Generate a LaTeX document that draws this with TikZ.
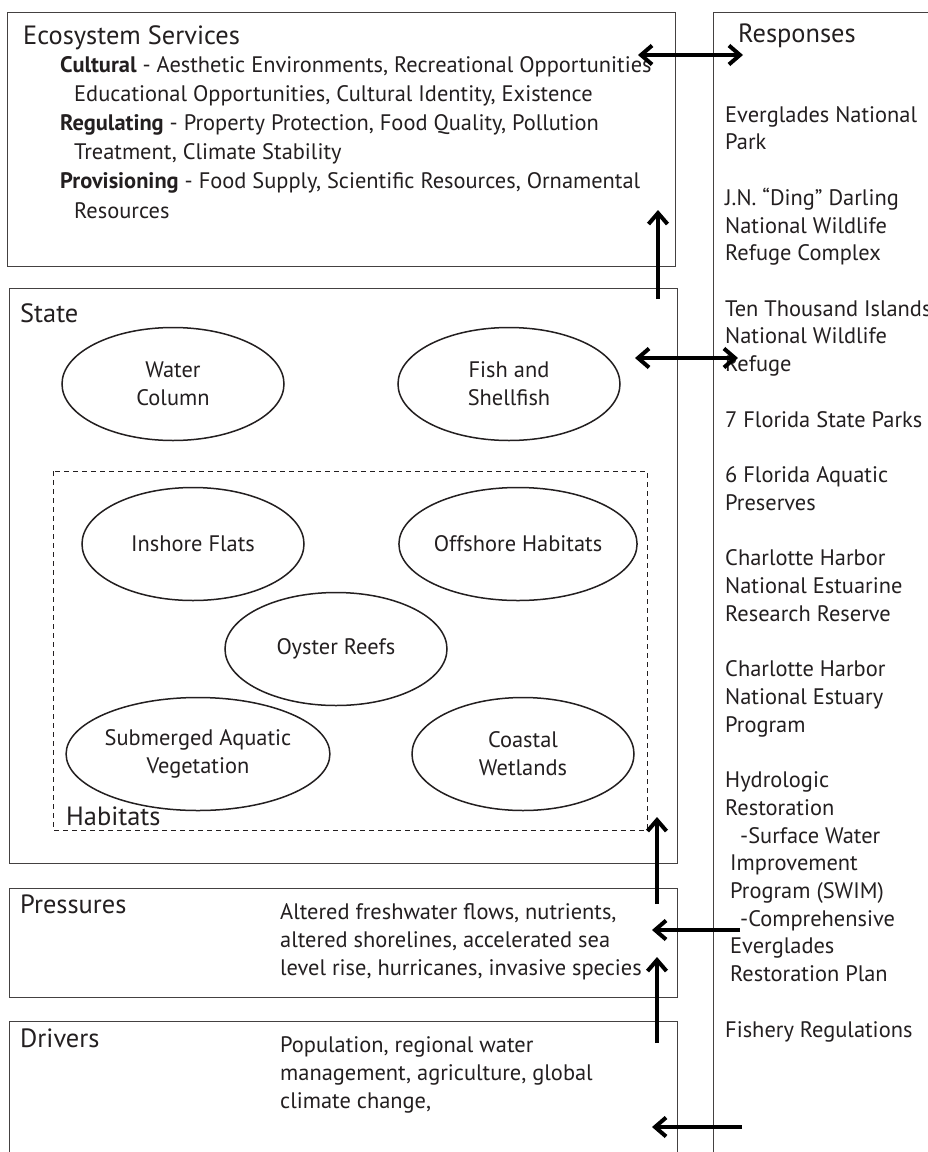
\documentclass[tikz,border=0pt]{standalone}
\usepackage{fontspec}
\setmainfont{PT Sans}
\usetikzlibrary{arrows.meta,shapes.geometric}
\definecolor{ink}{HTML}{231F20}
\begin{document}
\begin{tikzpicture}[x=1bp,y=-1bp,
  box/.style={draw=ink!85, line width=1bp},
  hab/.style={draw=ink, line width=1.5bp, ellipse, inner sep=0pt, align=center, text=ink,
    minimum width=222bp, minimum height=113bp, font=\fontsize{22.5}{28}\selectfont},
  title/.style={anchor=base west, inner sep=0pt, text=ink, font=\fontsize{26.5}{30}\selectfont},
  body/.style={anchor=base west, inner sep=0pt, text=ink, align=left,
    font=\fontsize{22.5}{27.8}\selectfont},
  tip/.tip={Straight Barb[length=11bp,width=19bp]},
  flow/.style={line width=4bp, -tip},
  both/.style={line width=4bp, tip-tip}]
\useasboundingbox (0,0) rectangle (928,1152);
\fill[white] (0,0) rectangle (928,1152);

% boxes
\draw[box] (7,12) rectangle (675,266);
\draw[box] (928,12) -- (713,12) -- (713,1152);
\draw[box] (9,288) rectangle (677,863);
\draw[box] (9,888) rectangle (677,997);
\draw[box] (677,1152) -- (677,1021) -- (9,1021) -- (9,1152);
\draw[ink, line width=0.9bp, dash pattern=on 5bp off 4bp] (53,471) rectangle (647,830);

% titles
\node[title] (estitle) at (23,44) {Ecosystem Services};
\node[title] (resptitle) at (738,42) {Responses};
\node[title] (statetitle) at (20,322) {State};
\node[title] (habtitle) at (66,825) {Habitats};
\node[title] (prestitle) at (20,913) {Pressures};
\node[title] (drvtitle) at (20,1047) {Drivers};

% ecosystem services body (anchored at last line)
\node[body, font=\fontsize{22.5}{29.2}\selectfont] (esbody) at (60,218) {%
\textbf{Cultural} - Aesthetic Environments, Recreational Opportunities\\
\hspace*{14bp}Educational Opportunities, Cultural Identity, Existence\\
\textbf{Regulating} - Property Protection, Food Quality, Pollution\\
\hspace*{14bp}Treatment, Climate Stability\\
\textbf{Provisioning} - Food Supply, Scientific Resources, Ornamental\\
\hspace*{14bp}Resources};

% responses body (anchored at last line)
\node[body] (respbody) at (725,1037) {%
Everglades National\\
Park\\[27.8bp]
J.N. ``Ding'' Darling\\
National Wildlife\\
Refuge Complex\\[27.8bp]
Ten Thousand Islands\\
National Wildlife\\
Refuge\\[27.8bp]
7 Florida State Parks\\[27.8bp]
6 Florida Aquatic\\
Preserves\\[27.8bp]
Charlotte Harbor\\
National Estuarine\\
Research Reserve\\[27.8bp]
Charlotte Harbor\\
National Estuary\\
Program\\[27.8bp]
Hydrologic\\
Restoration\\
\hspace*{15bp}-Surface Water\\
\hspace*{5bp}Improvement\\
\hspace*{5bp}Program (SWIM)\\
\hspace*{15bp}-Comprehensive\\
\hspace*{5bp}Everglades\\
\hspace*{5bp}Restoration Plan\\[27.8bp]
Fishery Regulations};

% pressures / drivers body (anchored at last line)
\node[body, font=\fontsize{22.5}{28}\selectfont] (presbody) at (280,975) {%
Altered freshwater flows, nutrients,\\
altered shorelines, accelerated sea\\
level rise, hurricanes, invasive species};
\node[body, font=\fontsize{22.5}{28}\selectfont] (drvbody) at (280,1108) {%
Population, regional water\\
management, agriculture, global\\
climate change,};

% state ellipses
\node[hab] (water) at (173,384) {Water\\Column};
\node[hab] (fish) at (509,384) {Fish and\\Shellfish};
\node[hab] (inshore) at (193,544) {Inshore Flats};
\node[hab] (offshore) at (518,544) {Offshore Habitats};
\node[hab] (oyster) at (336,649) {Oyster Reefs};
\node[hab] (sav) at (198,754) {Submerged Aquatic\\Vegetation};
\node[hab] (wet) at (523,754) {Coastal\\Wetlands};

% connector end points
\coordinate (a1) at (638,55);  \coordinate (b1) at (743,55);
\coordinate (a2) at (658,299); \coordinate (b2) at (658,210);
\coordinate (a3) at (635,358); \coordinate (b3) at (738,358);
\coordinate (a4) at (657,904); \coordinate (b4) at (657,817);
\coordinate (a5) at (740,930); \coordinate (b5) at (652,930);
\coordinate (a6) at (657,1043); \coordinate (b6) at (657,957);
\coordinate (a7) at (742,1127); \coordinate (b7) at (652,1127);

\draw[both] (a1) -- (b1);
\draw[flow] (a2) -- (b2);
\draw[both] (a3) -- (b3);
\draw[flow] (a4) -- (b4);
\draw[flow] (a5) -- (b5);
\draw[flow] (a6) -- (b6);
\draw[flow] (a7) -- (b7);
\end{tikzpicture}
\end{document}
